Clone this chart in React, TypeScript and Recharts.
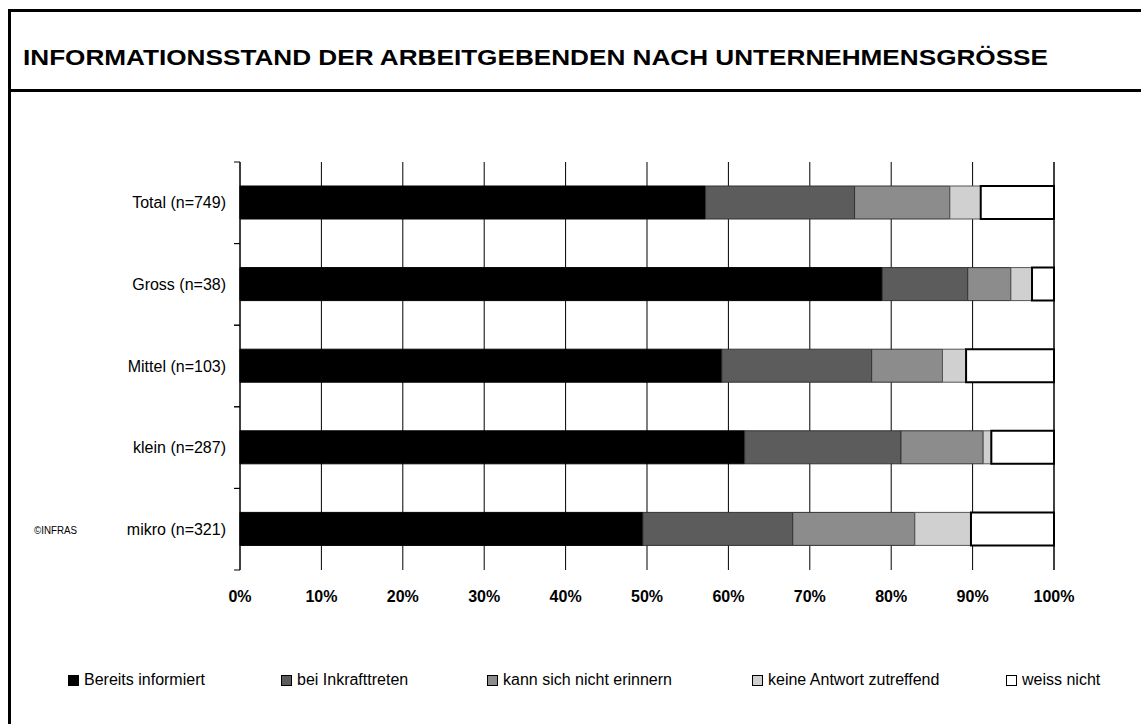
import React from "react";
import { BarChart, Bar, XAxis, YAxis, CartesianGrid, Legend } from "recharts";

// Anteile in % je Unternehmensgrösse (von oben nach unten)
const groups = ["Total (n=749)", "Gross (n=38)", "Mittel (n=103)", "klein (n=287)", "mikro (n=321)"];
const informed = [57.2, 78.9, 59.2, 62.0, 49.5];
const onEntry = [18.3, 10.5, 18.4, 19.2, 18.4];
const cantRemember = [11.7, 5.3, 8.7, 10.1, 15.0];
const noAnswer = [3.8, 2.6, 2.9, 1.0, 6.9];
const dontKnow = [9.0, 2.7, 10.8, 7.7, 10.2];
const xTicks = [0, 10, 20, 30, 40, 50, 60, 70, 80, 90, 100];

const seriesNames = [
  "Bereits informiert",
  "bei Inkrafttreten",
  "kann sich nicht erinnern",
  "keine Antwort zutreffend",
  "weiss nicht",
];

const W = 1141;
const H = 724;
const PLOT_LEFT = 240;
const PLOT_RIGHT = 1054;
const PLOT_TOP = 162;
const PLOT_BOTTOM = 570;
const BAND = (PLOT_BOTTOM - PLOT_TOP) / groups.length;
const FONT = "'Liberation Sans', Arial, sans-serif";

const seriesStyle = [
  { key: "informed", fill: "#000000", stroke: "#000000", width: 1 },
  { key: "onEntry", fill: "#5c5c5c", stroke: "#333333", width: 1 },
  { key: "cantRemember", fill: "#8c8c8c", stroke: "#333333", width: 1 },
  { key: "noAnswer", fill: "#d0d0d0", stroke: "#555555", width: 1 },
  { key: "dontKnow", fill: "#ffffff", stroke: "#000000", width: 2 },
];
// left edge of each legend marker
const legendX = [68, 281, 487, 752, 1006];

const rows = groups.map((g, i) => ({
  group: g,
  informed: informed[i],
  onEntry: onEntry[i],
  cantRemember: cantRemember[i],
  noAnswer: noAnswer[i],
  dontKnow: dontKnow[i],
}));

function GroupTick(props: any) {
  const { y, payload } = props;
  return (
    <g>
      <line x1={PLOT_LEFT - 6} x2={PLOT_LEFT} y1={y - BAND / 2} y2={y - BAND / 2} stroke="#000" />
      <line x1={PLOT_LEFT - 6} x2={PLOT_LEFT} y1={y + BAND / 2} y2={y + BAND / 2} stroke="#000" />
      <text x={PLOT_LEFT - 14} y={y} dy="0.35em" textAnchor="end" fontSize={16} fontFamily={FONT} fill="#000">
        {payload.value}
      </text>
    </g>
  );
}

function PercentTick(props: any) {
  const { x, payload } = props;
  return (
    <text x={x} y={PLOT_BOTTOM + 32} textAnchor="middle" fontSize={16} fontWeight="bold" fontFamily={FONT} fill="#000">
      {payload.value}%
    </text>
  );
}

function renderLegend(props: any) {
  const { payload } = props;
  return (
    <div style={{ position: "relative", width: W, height: 24, fontFamily: FONT, fontSize: 16, color: "#000" }}>
      {(payload || []).map((entry: any, i: number) => {
        const st = seriesStyle[i];
        return (
          <div
            key={entry.value}
            style={{ position: "absolute", left: legendX[i], top: 0, display: "flex", alignItems: "center", whiteSpace: "nowrap" }}
          >
            <span
              style={{
                display: "inline-block",
                width: 9,
                height: 9,
                background: st.fill,
                border: "1px solid #000",
                marginRight: 5,
              }}
            />
            <span>{entry.value}</span>
          </div>
        );
      })}
    </div>
  );
}

export default function App() {
  return (
    <div style={{ position: "absolute", left: 0, top: 0, width: W, height: H, background: "#fff", overflow: "hidden" }}>
      <svg width={W} height={H} style={{ position: "absolute", left: 0, top: 0 }}>
        <line x1={9.5} x2={9.5} y1={9} y2={H} stroke="#000" strokeWidth={3} />
        <line x1={8} x2={W} y1={10.5} y2={10.5} stroke="#000" strokeWidth={3} />
        <line x1={8} x2={W} y1={90.5} y2={90.5} stroke="#000" strokeWidth={3} />
        <text
          x={23}
          y={65}
          fontSize={22}
          fontWeight="bold"
          fontFamily={FONT}
          textLength={1025}
          lengthAdjust="spacingAndGlyphs"
          fill="#000"
        >
          INFORMATIONSSTAND DER ARBEITGEBENDEN NACH UNTERNEHMENSGRÖSSE
        </text>
        <text x={34} y={534} fontSize={10} fontFamily={FONT} textLength={43} lengthAdjust="spacingAndGlyphs" fill="#000">
          ©INFRAS
        </text>
      </svg>
      <div style={{ position: "absolute", left: 0, top: 0 }}>
        <BarChart
          width={W}
          height={H}
          data={rows}
          layout="vertical"
          margin={{ top: PLOT_TOP, right: W - PLOT_RIGHT, bottom: H - PLOT_BOTTOM - 30, left: 0 }}
        >
          <CartesianGrid horizontal={false} vertical stroke="#000" strokeWidth={1} />
          <XAxis
            type="number"
            domain={[0, 100]}
            ticks={xTicks}
            height={30}
            axisLine={false}
            tickLine={false}
            tick={<PercentTick />}
            interval={0}
          />
          <YAxis
            type="category"
            dataKey="group"
            width={PLOT_LEFT}
            axisLine={{ stroke: "#000" }}
            tickLine={false}
            tick={<GroupTick />}
            interval={0}
          />
          {seriesStyle.map((s, i) => (
            <Bar
              key={s.key}
              dataKey={s.key}
              name={seriesNames[i]}
              stackId="a"
              fill={s.fill}
              stroke={s.stroke}
              strokeWidth={s.width}
              barSize={33}
              isAnimationActive={false}
            />
          ))}
          <Legend
            layout="horizontal"
            verticalAlign="middle"
            align="center"
            content={renderLegend}
            wrapperStyle={{ position: "absolute", left: 0, top: 671, width: W, height: 24 }}
          />
        </BarChart>
      </div>
    </div>
  );
}
